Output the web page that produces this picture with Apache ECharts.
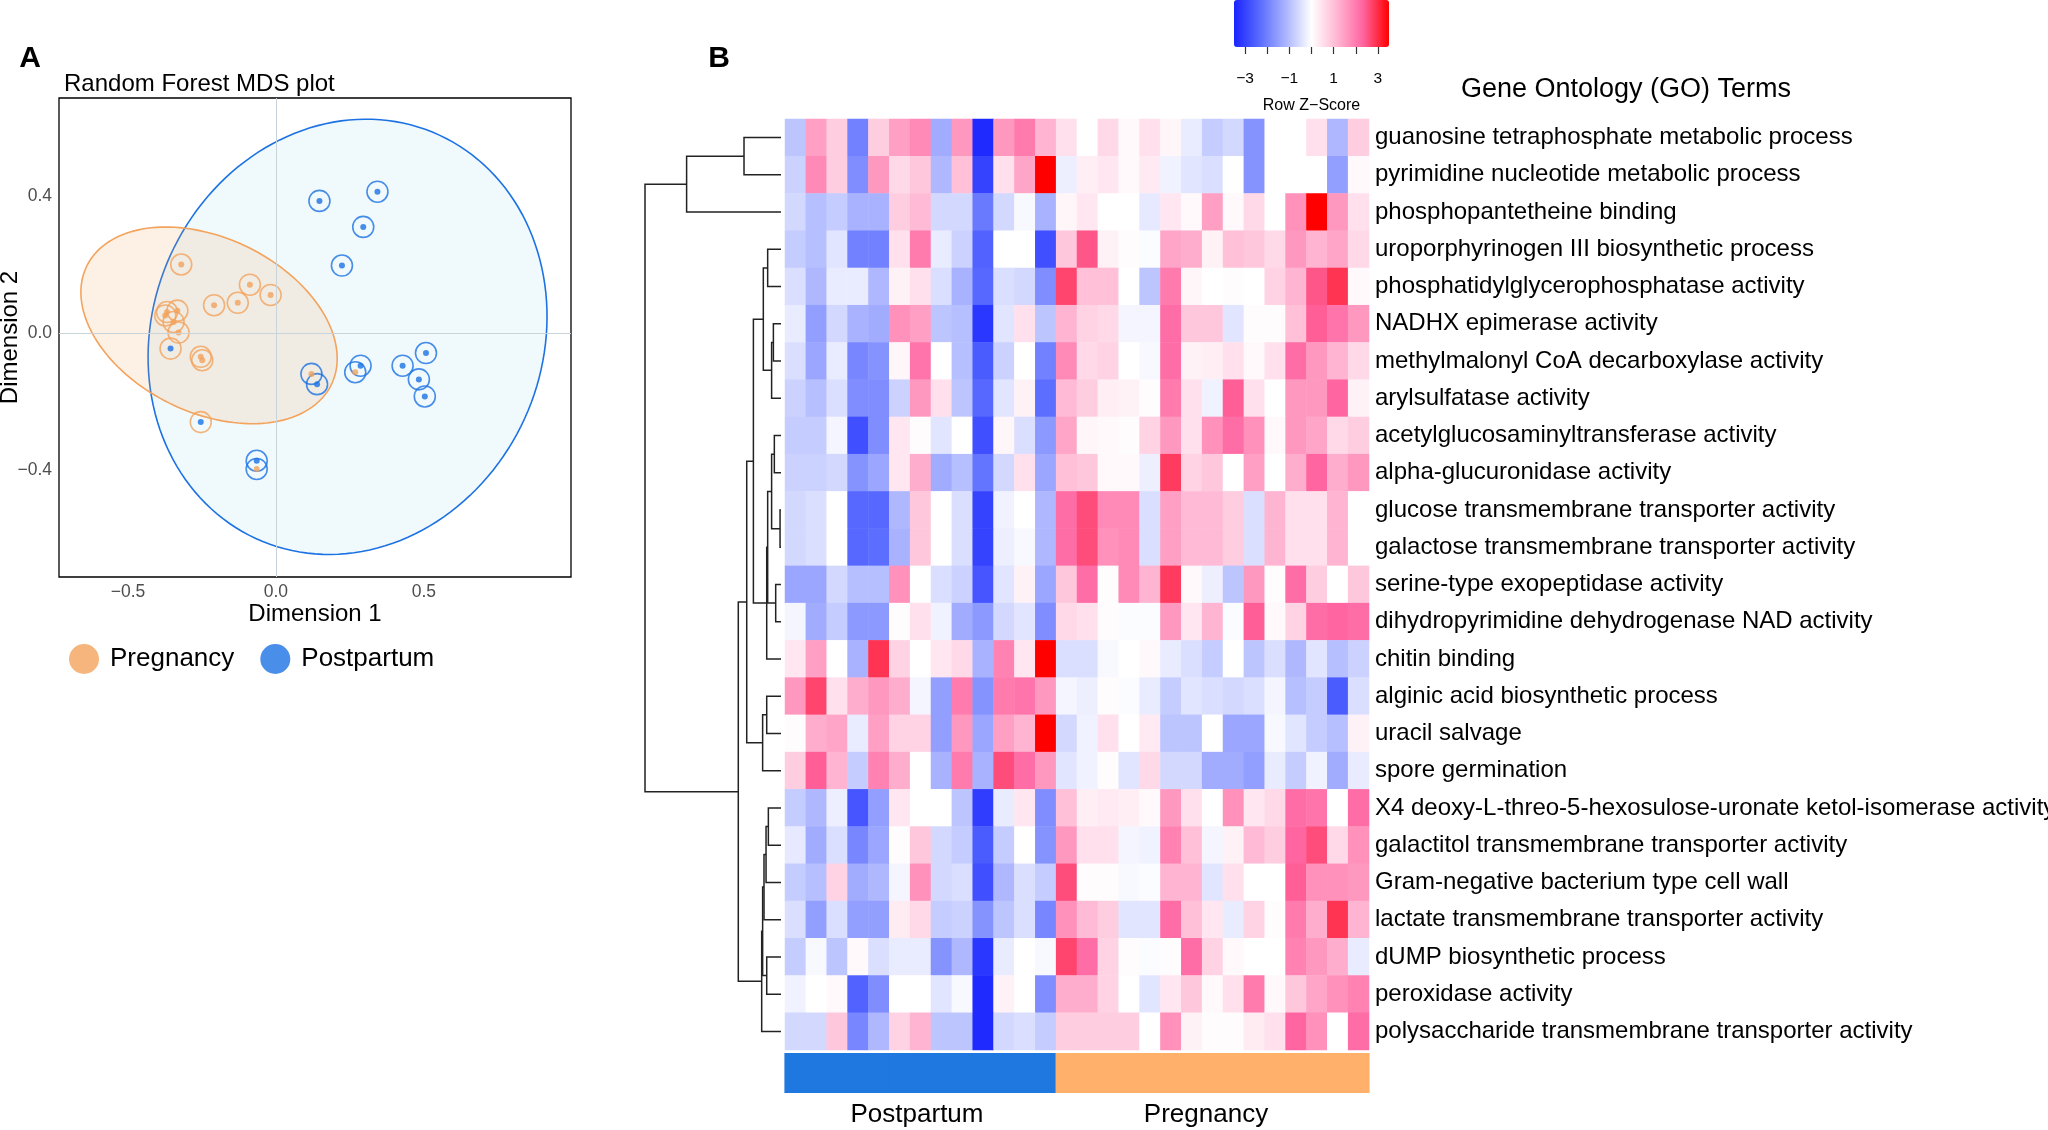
<!DOCTYPE html>
<html><head><meta charset="utf-8">
<script src="https://cdn.jsdelivr.net/npm/echarts@6/dist/echarts.min.js"></script>
<style>html,body{margin:0;padding:0;background:#fff}#c{width:2048px;height:1130px}</style>
</head><body><div id="c"></div><script>
// ---------------- DATA ----------------
const goTerms = [
  'guanosine tetraphosphate metabolic process',
  'pyrimidine nucleotide metabolic process',
  'phosphopantetheine binding',
  'uroporphyrinogen III biosynthetic process',
  'phosphatidylglycerophosphatase activity',
  'NADHX epimerase activity',
  'methylmalonyl CoA decarboxylase activity',
  'arylsulfatase activity',
  'acetylglucosaminyltransferase activity',
  'alpha-glucuronidase activity',
  'glucose transmembrane transporter activity',
  'galactose transmembrane transporter activity',
  'serine-type exopeptidase activity',
  'dihydropyrimidine dehydrogenase NAD activity',
  'chitin binding',
  'alginic acid biosynthetic process',
  'uracil salvage',
  'spore germination',
  'X4 deoxy-L-threo-5-hexosulose-uronate ketol-isomerase activity',
  'galactitol transmembrane transporter activity',
  'Gram-negative bacterium type cell wall',
  'lactate transmembrane transporter activity',
  'dUMP biosynthetic process',
  'peroxidase activity',
  'polysaccharide transmembrane transporter activity'
];
const sampleIds = ['PP1','PP2','PP3','PP4','PP5','PP6','PP7','PP8','PP9','PP10','PP11','PP12','PP13',
  'PG1','PG2','PG3','PG4','PG5','PG6','PG7','PG8','PG9','PG10','PG11','PG12','PG13','PG14','PG15'];
const sampleGroup = [0,0,0,0,0,0,0,0,0,0,0,0,0, 1,1,1,1,1,1,1,1,1,1,1,1,1,1,1]; // 0 Postpartum, 1 Pregnancy
const groupNames = ['Postpartum','Pregnancy'];
const zScores = [
  [-0.9,1.5,0.8,-2.0,0.8,1.5,1.8,-1.3,1.6,-3.4,1.6,2.0,1.2, 0.5,0,0.6,0.1,0.5,0.15,-0.3,-0.8,-0.6,-1.7,0,0,0.5,-1.1,0.8],
  [-0.7,1.8,0.8,-1.8,1.6,0.6,0.9,-1.1,1.0,-3.0,0.5,1.4,3.5, -0.25,0.25,0.4,0.1,0.35,-0.2,-0.4,-0.5,0,-1.7,0,0,0,-1.5,0.1],
  [-0.6,-1.0,-0.8,-1.2,-1.2,0.8,1.1,-0.6,-0.6,-2.1,-0.6,-0.1,-1.2, 0.15,0.4,0,0,-0.35,0.4,0.1,1.5,0.1,0.6,0,1.7,3.5,1.6,0.5],
  [-0.8,-1.0,-0.4,-2.0,-2.0,0.5,2.0,-0.3,-0.7,-2.5,0,0,-2.8, 0.9,2.5,0.2,0.05,-0.05,1.4,1.3,0.2,1.0,0.9,0.6,1.6,1.2,1.4,0.6],
  [-0.5,-1.1,-0.3,-0.3,-1.1,0.2,0.5,-0.5,-1.2,-2.4,-0.5,-0.6,-1.8, 2.7,1.0,1.0,0,-0.9,2.0,0.15,0,0.05,0,0.7,1.2,2.5,2.9,0.1],
  [-0.3,-1.5,-0.6,-1.2,-1.3,1.7,1.5,-0.9,-1.0,-3.2,-0.4,0.5,-0.9, 1.2,0.7,0.6,-0.15,-0.15,2.2,0.9,0.9,-0.4,0.05,0.05,1.0,2.4,2.1,1.6],
  [-0.5,-1.4,-0.3,-1.9,-1.7,0.15,2.1,0,-1.0,-2.6,-0.7,0,-2.0, 1.8,0.6,0.7,0,-0.1,2.2,0.2,0.25,0.5,0.1,0.5,2.2,1.6,1.2,0.6],
  [-0.7,-1.0,-0.5,-1.8,-1.8,-0.7,1.6,0.5,-0.9,-2.4,-0.4,0.2,-2.3, 1.1,0.8,0.25,0.2,0.05,2.0,0.5,-0.2,2.4,0.5,0,1.6,1.6,2.3,0.2],
  [-0.8,-0.8,-0.15,-2.8,-1.8,0.4,0.05,-0.4,0,-2.8,0.15,-0.5,-1.6, 1.4,0.15,0.1,0.05,0.7,1.6,0.5,1.7,2.2,1.7,0.1,1.6,1.4,0.6,0.8],
  [-0.7,-0.7,-0.6,-1.7,-1.4,0.4,1.3,-1.3,-1.0,-2.2,-0.6,0.5,-1.4, 1.0,0.9,0.1,0.1,-0.25,2.8,0.7,0.9,0,1.5,0,1.3,2.3,1.3,1.6],
  [-0.6,-0.5,0,-2.4,-2.4,-1.1,0.9,0,-0.5,-3.0,-0.2,0,-1.1, 2.2,2.6,1.8,1.8,-0.5,1.5,1.1,1.1,0.8,-0.5,1.2,0.5,0.5,1.2,0],
  [-0.6,-0.5,0,-2.4,-2.3,-1.2,0.9,0,-0.5,-3.0,-0.25,-0.1,-1.1, 2.2,2.6,1.7,1.8,-0.5,1.5,1.1,1.1,0.8,-0.5,1.2,0.5,0.5,1.2,0],
  [-1.4,-1.4,-0.6,-1.0,-1.0,1.7,0,-0.5,-0.7,-2.7,-0.4,0.2,-1.4, 0.9,2.2,0.05,1.8,1.2,2.8,0.1,-0.25,-0.9,1.6,0.05,2.2,0.8,0,0.9],
  [-0.15,-1.3,-0.8,-1.6,-1.6,0.05,0.5,-0.2,-1.3,-1.6,-0.6,-0.4,-1.8, 0.6,0.5,0.05,-0.05,-0.05,1.6,0.4,1.2,-0.05,2.4,0.1,0.7,2.2,2.3,2.2],
  [0.4,1.5,0,-1.2,2.9,0.7,0,0.4,0.6,-1.2,1.9,0.4,3.5, -0.5,-0.5,-0.1,0,0.1,-0.3,-0.5,-0.8,0,-0.9,-0.5,-1.1,-0.4,-1.0,-0.7],
  [1.6,2.7,0.5,1.3,1.6,1.3,-0.15,-1.5,2.0,-1.7,2.0,2.1,1.6, -0.15,-0.25,0.05,-0.05,-0.3,-0.8,-0.4,-0.5,-0.6,-0.5,-0.15,-1.0,-0.8,-2.6,-0.5],
  [0.05,1.3,1.4,-0.3,1.5,0.7,0.7,-1.5,1.6,-1.4,1.5,1.2,3.5, -0.6,-0.2,0.5,0,0.35,-0.9,-0.9,0,-1.4,-1.4,-0.1,-0.4,-0.8,-1.0,0.2],
  [0.8,2.4,1.2,-0.8,1.9,1.3,0,-1.2,2.0,-1.2,2.6,2.2,1.6, -0.4,-0.2,0.05,-0.4,0.6,-0.6,-0.6,-1.3,-1.3,-1.5,-0.3,-0.8,-0.2,-1.3,-0.3],
  [-0.8,-1.1,-0.25,-2.7,-1.5,0.4,0,0,-0.9,-3.1,-0.3,0.4,-1.8, 1.0,0.25,0.35,0.25,0.1,1.6,0.5,0,1.7,0.4,0.6,2.2,2.1,0,2.2],
  [-0.35,-1.3,-0.5,-1.9,-1.4,0.05,0.9,-0.6,-0.8,-2.6,-0.8,0,-1.7, 1.6,0.5,0.5,-0.15,-0.2,1.9,1.0,-0.15,0.2,1.1,0.8,2.3,2.6,0.6,1.7],
  [-0.8,-1.0,0.7,-1.3,-1.1,-0.15,1.7,-0.6,-0.5,-2.8,-1.1,-0.5,-0.8, 2.6,0.05,0.05,-0.1,-0.05,1.2,1.2,-0.4,0.5,0,0,2.4,1.7,1.7,1.6],
  [-0.5,-1.5,-0.5,-1.5,-1.5,0.3,0.6,-0.8,-0.7,-1.7,-0.9,-0.5,-1.9, 1.7,1.1,0.8,-0.4,-0.4,2.2,1.0,0.4,-0.3,0.7,0.05,2.0,1.3,2.9,1.2],
  [-0.8,-0.1,-0.9,0.1,-0.5,-0.3,-0.3,-1.7,-1.1,-3.2,-0.3,0,-0.1, 2.7,2.2,0.7,0.05,-0.05,0.05,2.2,0.7,0.1,0,0,1.9,1.6,1.3,-0.3],
  [-0.2,0,0.1,-2.5,-1.8,0,0,-0.4,-0.1,-3.4,0.2,0,-1.8, 1.3,1.3,0.7,0,-0.4,0.4,0.9,0.1,0.5,2.0,0.1,0.9,1.4,1.7,1.9],
  [-0.6,-0.6,0.9,-1.9,-1.1,0.7,1.2,-0.9,-0.9,-3.4,-0.6,-0.5,-0.8, 0.8,0.8,0.8,0.8,0,1.7,0.2,0.05,0.05,0.3,0.5,2.3,1.7,0,2.2]
];
// hclust-style merges: negative = leaf (row -n-1), positive = earlier merge (1-based); third = height
const dendroMerges = [
  [-1,-2,2.72],[1,-3,6.94],[-4,-5,0.98],[-6,-7,0.56],[4,-8,0.69],[3,5,1.30],
  [-9,-10,0.49],[-11,-12,0.07],[7,8,0.69],[-13,-14,0.39],[9,10,0.98],[11,-15,1.05],
  [6,12,2.03],[-16,-17,1.05],[14,-18,1.35],[13,15,2.52],[-19,-20,0.93],[17,-21,1.10],
  [18,-22,1.25],[-23,-24,1.05],[19,20,1.35],[21,-25,1.42],[16,22,3.14],[2,23,10]
];
const zKeyTicks = [-3,-2,-1,0,1,2,3];
const zKeyLabels = [-3,-1,1,3];
// MDS points [dim1, dim2]
const pregnancyPoints = [[-0.320,0.201],[-0.088,0.142],[-0.018,0.112],[-0.129,0.089],[-0.209,0.082],
  [-0.333,0.066],[-0.368,0.062],[-0.374,0.052],[-0.346,0.033],[-0.329,0.002],[-0.254,-0.069],
  [-0.249,-0.079],[0.120,-0.119],[0.268,-0.114],[-0.065,-0.397]];
const pregnancyPredicted = ['P','P','P','P','P','P','P','P','P','P','P','P','B','B','B'];
const postpartumPoints = [[0.147,0.387],[0.343,0.414],[0.295,0.311],[0.223,0.198],[-0.356,-0.045],
  [-0.254,-0.260],[-0.065,-0.373],[0.139,-0.149],[0.286,-0.095],[0.428,-0.095],[0.507,-0.058],
  [0.483,-0.135],[0.503,-0.185]];
const postpartumPredicted = ['B','B','B','B','P','P','B','B','B','B','B','B','B'];
// ellipse [cx, cy, semi-axis a, semi-axis b, angle deg]
const pregnancyEllipse = [-0.226,0.023,0.4497,0.2607,-19.35];
const postpartumEllipse = [0.242,-0.0105,0.6904,0.6187,29.2];
const mdsTicks = [-0.5,0,0.5];
const mdsYTicks = [-0.4,0,0.4];

// ---------------- STYLE ----------------
const FF = '"Liberation Sans", Arial, Helvetica, sans-serif';
const ORANGE = '#F3A35C', BLUE = '#1C72E3';
const GROUP_COLORS = ['#1E78E0', '#FFB06B'];
const minusFmt = d => v => (v < 0 ? '\u2212' : '') + Math.abs(v).toFixed(d);

// heatmap data
const hmData = [];
zScores.forEach((row, r) => row.forEach((v, c) => hmData.push([c, r, v])));
const annData = sampleGroup.map((g, c) => [c, 0, g]);

// dendrogram segments
function buildDendro(merges) {
  const pos = [], hts = [], segs = [];
  const info = ref => ref < 0 ? { y: -ref - 1, h: 0 } : { y: pos[ref - 1], h: hts[ref - 1] };
  merges.forEach((m, k) => {
    const a = info(m[0]), b = info(m[1]);
    pos[k] = (a.y + b.y) / 2; hts[k] = m[2];
    segs.push([a.h, a.y, m[2], b.y, b.h]);
  });
  return segs;
}
const dendroSegs = buildDendro(dendroMerges);

function ellipseRender(par, fill, stroke) {
  return function (params, api) {
    const [cx, cy, a, b, deg] = par, th = deg * Math.PI / 180, pts = [];
    for (let i = 0; i <= 160; i++) {
      const t = i / 160 * 2 * Math.PI;
      const x = cx + a * Math.cos(t) * Math.cos(th) - b * Math.sin(t) * Math.sin(th);
      const y = cy + a * Math.cos(t) * Math.sin(th) + b * Math.sin(t) * Math.cos(th);
      pts.push(api.coord([x, y]));
    }
    return { type: 'polygon', shape: { points: pts }, style: { fill: fill, stroke: stroke, lineWidth: 1.6 } };
  };
}

const allPts = pregnancyPoints.map((p, i) => ({ p, pred: pregnancyPredicted[i] }))
  .concat(postpartumPoints.map((p, i) => ({ p, pred: postpartumPredicted[i] })));
const ringsP = allPts.filter(o => o.pred === 'P').map(o => o.p);
const ringsB = allPts.filter(o => o.pred === 'B').map(o => o.p);

const hidden = { show: false };
const chart = echarts.init(document.getElementById('c'), null, { width: 2048, height: 1130 });
chart.setOption({
  backgroundColor: '#fff',
  animation: false,
  textStyle: { fontFamily: FF },
  graphic: [
    { type: 'text', x: 30, y: 59, style: { text: 'A', fontSize: 30, fontWeight: 'bold', fill: '#000', align: 'center', verticalAlign: 'middle', fontFamily: FF } },
    { type: 'text', x: 719, y: 59, style: { text: 'B', fontSize: 30, fontWeight: 'bold', fill: '#000', align: 'center', verticalAlign: 'middle', fontFamily: FF } },
    { type: 'text', x: 64, y: 84, style: { text: 'Random Forest MDS plot', fontSize: 24, fill: '#000', align: 'left', verticalAlign: 'middle', fontFamily: FF } },
    { type: 'text', x: 1626, y: 90, style: { text: 'Gene Ontology (GO) Terms', fontSize: 27, fill: '#000', align: 'center', verticalAlign: 'middle', fontFamily: FF } },
    { type: 'text', x: 917, y: 1115, style: { text: groupNames[0], fontSize: 26, fill: '#000', align: 'center', verticalAlign: 'middle', fontFamily: FF } },
    { type: 'text', x: 1206, y: 1115, style: { text: groupNames[1], fontSize: 26, fill: '#000', align: 'center', verticalAlign: 'middle', fontFamily: FF } }
  ],
  legend: {
    left: 64, top: 639, itemWidth: 30, itemHeight: 30, itemGap: 26, icon: 'circle', selectedMode: false,
    data: ['Pregnancy', 'Postpartum'],
    textStyle: { fontSize: 26, color: '#000', fontFamily: FF, padding: [0, 0, 0, 6] }
  },
  grid: [
    { left: 59, top: 98, width: 512, height: 479, show: true, borderColor: '#000', borderWidth: 1.3, backgroundColor: '#fff', outerBoundsMode: 'none', containLabel: false },
    { left: 645, top: 119, width: 136, height: 931, outerBoundsMode: 'none', containLabel: false },
    { left: 785, top: 119, width: 584, height: 931, outerBoundsMode: 'none', containLabel: false },
    { left: 785, top: 1053, width: 584, height: 40, outerBoundsMode: 'none', containLabel: false },
    { left: 1234, top: 0, width: 155, height: 47, outerBoundsMode: 'none', containLabel: false }
  ],
  xAxis: [
    { gridIndex: 0, type: 'value', min: -0.733, max: 0.997, axisLine: hidden, axisTick: hidden, splitLine: hidden,
      axisLabel: { customValues: mdsTicks, formatter: minusFmt(1), fontSize: 17.5, color: '#4d4d4d', margin: 6 },
      name: 'Dimension 1', nameLocation: 'middle', nameGap: 22, nameTextStyle: { fontSize: 24, color: '#000' } },
    { gridIndex: 1, type: 'value', min: 0, max: 10, inverse: true, show: false },
    { gridIndex: 2, type: 'category', data: sampleIds, show: false },
    { gridIndex: 3, type: 'category', data: sampleIds, show: false },
    { gridIndex: 4, type: 'value', min: -3.5, max: 3.5, position: 'bottom', axisLine: hidden, splitLine: hidden,
      axisTick: { show: true, customValues: zKeyTicks, length: 7, lineStyle: { color: '#333', width: 1.2 } },
      axisLabel: { customValues: zKeyLabels, formatter: minusFmt(0), fontSize: 15.5, color: '#000', margin: 24 },
      name: 'Row Z\u2212Score', nameLocation: 'middle', nameGap: 51, nameTextStyle: { fontSize: 16, color: '#000' } }
  ],
  yAxis: [
    { gridIndex: 0, type: 'value', min: -0.713, max: 0.688, axisLine: hidden, axisTick: hidden, splitLine: hidden,
      axisLabel: { customValues: mdsYTicks, formatter: minusFmt(1), fontSize: 17.5, color: '#4d4d4d', margin: 7 },
      name: 'Dimension 2', nameLocation: 'middle', nameRotate: 90, nameGap: 37, nameMoveOverlap: false,
      nameTextStyle: { fontSize: 24, color: '#000' } },
    { gridIndex: 1, type: 'value', min: -0.5, max: 24.5, inverse: true, show: false },
    { gridIndex: 2, type: 'category', data: goTerms, inverse: true, position: 'right',
      axisLine: hidden, axisTick: hidden, splitLine: hidden,
      axisLabel: { fontSize: 24, color: '#000', margin: 6, fontFamily: FF } },
    { gridIndex: 3, type: 'category', data: ['group'], show: false },
    { gridIndex: 4, type: 'value', min: 0, max: 1, show: false }
  ],
  visualMap: [
    { type: 'continuous', seriesIndex: 7, min: -3.5, max: 3.5, orient: 'horizontal', left: 1234, top: 0,
      itemHeight: 155, itemWidth: 47, padding: 0, calculable: false, hoverLink: false, text: null,
      inRange: { color: ['#1a24ff', '#5a6cff', '#aab4ff', '#ffffff', '#ffb6d2', '#ff64a0', '#ff0000'] } }
  ],
  series: [
    { type: 'custom', name: 'ellipsePost', xAxisIndex: 0, yAxisIndex: 0, silent: true, z: 1,
      data: [[postpartumEllipse[0], postpartumEllipse[1]]],
      renderItem: ellipseRender(postpartumEllipse, 'rgba(120,210,225,0.11)', BLUE),
      markLine: { silent: true, symbol: 'none', label: hidden, animation: false,
        lineStyle: { color: '#c9d3da', width: 1, type: 'solid' },
        data: [{ xAxis: 0 }, { yAxis: 0 }] } },
    { type: 'custom', name: 'ellipsePreg', xAxisIndex: 0, yAxisIndex: 0, silent: true, z: 2,
      data: [[pregnancyEllipse[0], pregnancyEllipse[1]]],
      renderItem: ellipseRender(pregnancyEllipse, 'rgba(240,160,90,0.15)', ORANGE) },
    { type: 'scatter', name: 'ringP', xAxisIndex: 0, yAxisIndex: 0, symbol: 'circle', symbolSize: 21, z: 3,
      data: ringsP, itemStyle: { color: 'rgba(0,0,0,0)', borderColor: ORANGE, borderWidth: 1.6 } },
    { type: 'scatter', name: 'ringB', xAxisIndex: 0, yAxisIndex: 0, symbol: 'circle', symbolSize: 21, z: 3,
      data: ringsB, itemStyle: { color: 'rgba(0,0,0,0)', borderColor: BLUE, borderWidth: 1.6 } },
    { type: 'scatter', name: 'Pregnancy', xAxisIndex: 0, yAxisIndex: 0, symbol: 'circle', symbolSize: 6, z: 4,
      data: pregnancyPoints, itemStyle: { color: ORANGE } },
    { type: 'scatter', name: 'Postpartum', xAxisIndex: 0, yAxisIndex: 0, symbol: 'circle', symbolSize: 6, z: 4,
      data: postpartumPoints, itemStyle: { color: BLUE } },
    { type: 'custom', name: 'dendro', xAxisIndex: 1, yAxisIndex: 1, silent: true,
      encode: { x: [0, 2, 4], y: [1, 3] }, data: dendroSegs,
      renderItem: function (params, api) {
        const p1 = api.coord([api.value(0), api.value(1)]);
        const p2 = api.coord([api.value(2), api.value(1)]);
        const p3 = api.coord([api.value(2), api.value(3)]);
        const p4 = api.coord([api.value(4), api.value(3)]);
        return { type: 'polyline', shape: { points: [p1, p2, p3, p4] }, style: { stroke: '#222', lineWidth: 1.5, fill: null } };
      } },
    { type: 'heatmap', name: 'z', xAxisIndex: 2, yAxisIndex: 2, data: hmData, silent: true },
    { type: 'custom', name: 'group', xAxisIndex: 3, yAxisIndex: 3, silent: true,
      encode: { x: 0, y: 1 }, data: annData,
      renderItem: function (params, api) {
        const c = api.coord([api.value(0), api.value(1)]);
        const s = api.size([1, 1]);
        return { type: 'rect', shape: { x: c[0] - s[0] / 2 - 0.6, y: c[1] - s[1] / 2, width: s[0] + 1.2, height: s[1] },
          style: { fill: GROUP_COLORS[api.value(2)] } };
      } }
  ]
});
</script></body></html>
